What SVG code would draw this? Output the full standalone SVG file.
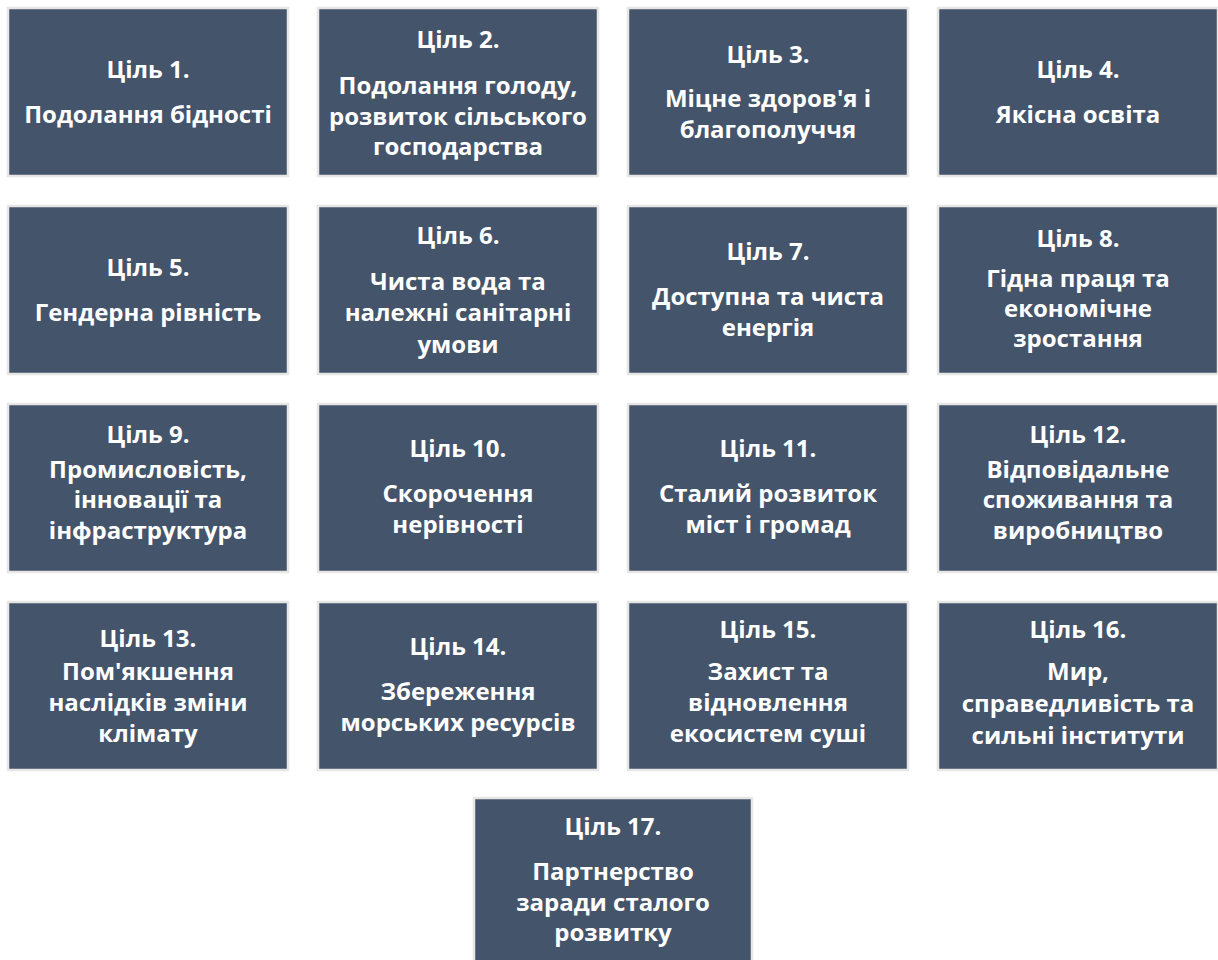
<svg xmlns="http://www.w3.org/2000/svg" width="1218" height="960" viewBox="0 0 1218 960">
<style>
.box{fill:#44546a;stroke:#e6e6e6;stroke-width:2.5}
.t{fill:#ffffff;font-family:"Open Sans","Liberation Sans",sans-serif;font-weight:700;font-size:24px;text-anchor:middle}
</style>
<rect width="1218" height="960" fill="#ffffff"/>
<g id="connectors"></g>
<g id="goal-1"><rect class="box" x="8" y="8" width="280" height="168"/>
<text class="t"><tspan x="148" y="78">Ціль 1.</tspan><tspan x="148" y="123">Подолання бідності</tspan></text></g>
<g id="goal-2"><rect class="box" x="318" y="8" width="280" height="168"/>
<text class="t"><tspan x="458" y="48">Ціль 2.</tspan><tspan x="458" y="94">Подолання голоду,</tspan><tspan x="458" y="125">розвиток сільського</tspan><tspan x="458" y="155">господарства</tspan></text></g>
<g id="goal-3"><rect class="box" x="628" y="8" width="280" height="168"/>
<text class="t"><tspan x="768" y="63">Ціль 3.</tspan><tspan x="768" y="107">Міцне здоров'я і</tspan><tspan x="768" y="138">благополуччя</tspan></text></g>
<g id="goal-4"><rect class="box" x="938" y="8" width="280" height="168"/>
<text class="t"><tspan x="1078" y="78">Ціль 4.</tspan><tspan x="1078" y="123">Якісна освіта</tspan></text></g>

<g id="goal-5"><rect class="box" x="8" y="206" width="280" height="168"/>
<text class="t"><tspan x="148" y="276">Ціль 5.</tspan><tspan x="148" y="321">Гендерна рівність</tspan></text></g>
<g id="goal-6"><rect class="box" x="318" y="206" width="280" height="168"/>
<text class="t"><tspan x="458" y="244">Ціль 6.</tspan><tspan x="458" y="290">Чиста вода та</tspan><tspan x="458" y="321">належні санітарні</tspan><tspan x="458" y="353">умови</tspan></text></g>
<g id="goal-7"><rect class="box" x="628" y="206" width="280" height="168"/>
<text class="t"><tspan x="768" y="260">Ціль 7.</tspan><tspan x="768" y="305">Доступна та чиста</tspan><tspan x="768" y="336">енергія</tspan></text></g>
<g id="goal-8"><rect class="box" x="938" y="206" width="280" height="168"/>
<text class="t"><tspan x="1078" y="247">Ціль 8.</tspan><tspan x="1078" y="287">Гідна праця та</tspan><tspan x="1078" y="317">економічне</tspan><tspan x="1078" y="347">зростання</tspan></text></g>

<g id="goal-9"><rect class="box" x="8" y="404" width="280" height="168"/>
<text class="t"><tspan x="148" y="443">Ціль 9.</tspan><tspan x="148" y="478">Промисловість,</tspan><tspan x="148" y="508">інновації та</tspan><tspan x="148" y="539">інфраструктура</tspan></text></g>
<g id="goal-10"><rect class="box" x="318" y="404" width="280" height="168"/>
<text class="t"><tspan x="458" y="457">Ціль 10.</tspan><tspan x="458" y="502">Скорочення</tspan><tspan x="458" y="533">нерівності</tspan></text></g>
<g id="goal-11"><rect class="box" x="628" y="404" width="280" height="168"/>
<text class="t"><tspan x="768" y="457">Ціль 11.</tspan><tspan x="768" y="502">Сталий розвиток</tspan><tspan x="768" y="533">міст і громад</tspan></text></g>
<g id="goal-12"><rect class="box" x="938" y="404" width="280" height="168"/>
<text class="t"><tspan x="1078" y="443">Ціль 12.</tspan><tspan x="1078" y="478">Відповідальне</tspan><tspan x="1078" y="508">споживання та</tspan><tspan x="1078" y="539">виробництво</tspan></text></g>

<g id="goal-13"><rect class="box" x="8" y="602" width="280" height="168"/>
<text class="t"><tspan x="148" y="647">Ціль 13.</tspan><tspan x="148" y="680">Пом'якшення</tspan><tspan x="148" y="711">наслідків зміни</tspan><tspan x="148" y="742">клімату</tspan></text></g>
<g id="goal-14"><rect class="box" x="318" y="602" width="280" height="168"/>
<text class="t"><tspan x="458" y="655">Ціль 14.</tspan><tspan x="458" y="700">Збереження</tspan><tspan x="458" y="731">морських ресурсів</tspan></text></g>
<g id="goal-15"><rect class="box" x="628" y="602" width="280" height="168"/>
<text class="t"><tspan x="768" y="638">Ціль 15.</tspan><tspan x="768" y="680">Захист та</tspan><tspan x="768" y="711">відновлення</tspan><tspan x="768" y="742">екосистем суші</tspan></text></g>
<g id="goal-16"><rect class="box" x="938" y="602" width="280" height="168"/>
<text class="t"><tspan x="1078" y="638">Ціль 16.</tspan><tspan x="1078" y="680">Мир,</tspan><tspan x="1078" y="712">справедливість та</tspan><tspan x="1078" y="744">сильні інститути</tspan></text></g>

<g id="goal-17"><rect class="box" x="474" y="798" width="278" height="172"/>
<text class="t"><tspan x="613" y="835">Ціль 17.</tspan><tspan x="613" y="880">Партнерство</tspan><tspan x="613" y="911">заради сталого</tspan><tspan x="613" y="941">розвитку</tspan></text></g>
</svg>
